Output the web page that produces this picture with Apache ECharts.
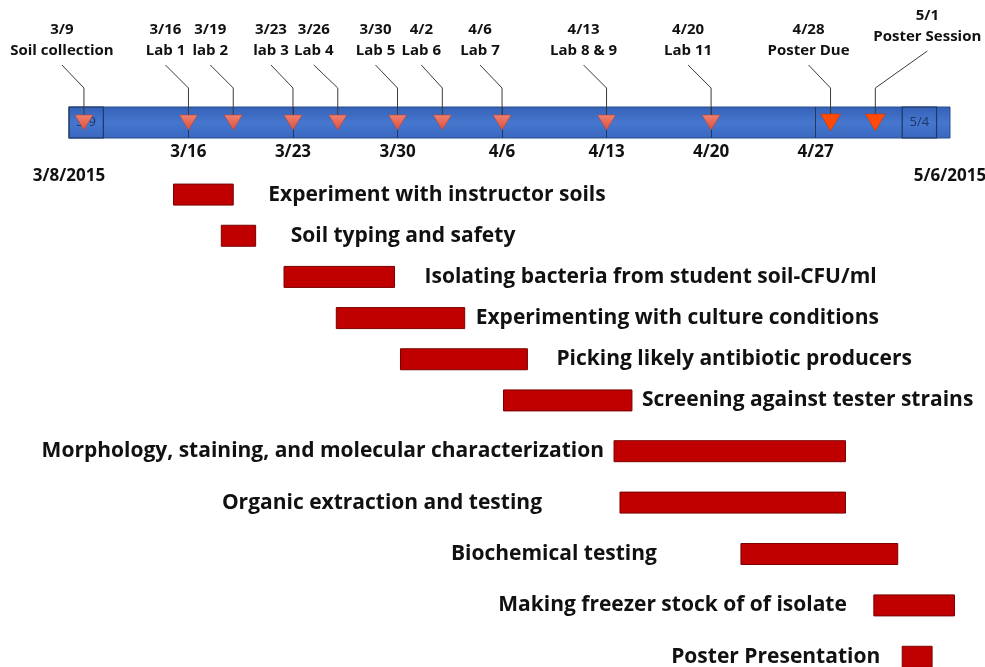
<!DOCTYPE html>
<html>
<head>
<meta charset="utf-8">
<title>Soil project timeline</title>
<script src="https://cdn.jsdelivr.net/npm/echarts@6/dist/echarts.min.js"></script>
<style>
  html, body { margin: 0; padding: 0; background: #fff; }
  #main { width: 985px; height: 667px; }
</style>
</head>
<body>
<div id="main"></div>
<script>
// every day value below counts days after 3/8/2015 (start of the timeline)
var spanStartLabel = '3/8/2015';
var spanEndLabel = '5/6/2015';
var spanDays = 59;

var weekTickDay = [8, 15, 22, 29, 36, 43, 50];
var weekTickLabel = ['3/16', '3/23', '3/30', '4/6', '4/13', '4/20', '4/27'];

var milestoneDay = [1, 8, 11, 15, 18, 22, 25, 29, 36, 43, 51, 54];
var milestoneDate = ['3/9', '3/16', '3/19', '3/23', '3/26', '3/30', '4/2', '4/6', '4/13', '4/20', '4/28', '5/1'];
var milestoneName = ['Soil collection', 'Lab 1', 'lab 2', 'lab 3', 'Lab 4', 'Lab 5', 'Lab 6', 'Lab 7', 'Lab 8 & 9', 'Lab 11', 'Poster Due', 'Poster Session'];

var endBoxLabel = ['3/9', '5/4'];
var endBoxFrom = [0, 55.8];
var endBoxTo = [2.3, 58.1];

var taskNamesTop = [
  'Experiment with instructor soils',
  'Soil typing and safety',
  'Isolating bacteria from student soil-CFU/ml',
  'Experimenting with culture conditions',
  'Picking likely antibiotic producers',
  'Screening against tester strains'
];
var taskStartTop = [7.0, 10.2, 14.4, 17.9, 22.2, 29.1];
var taskEndTop = [11.0, 12.5, 21.8, 26.5, 30.7, 37.7];

var taskNamesBottom = [
  'Morphology, staining, and molecular characterization',
  'Organic extraction and testing',
  'Biochemical testing',
  'Making freezer stock of of isolate',
  'Poster Presentation'
];
var taskStartBottom = [36.5, 36.9, 45.0, 53.9, 55.8];
var taskEndBottom = [52.0, 52.0, 55.5, 59.3, 57.8];

// layout only (pixel gaps between bar and its text, callout offsets)
var labelGapTop = [35, 35, 30, 11, 29, 10];
var labelGapBottom = [10, 78, 84, 27, 22];
var calloutDx = [-22, -23, -23, -22, -24, -22, -21, -22, -23, -23, -22, 52];
var calloutRise = [0, 0, 0, 0, 0, 0, 0, 0, 0, 0, 0, 14];
var bigMarker = [false, false, false, false, false, false, false, false, false, false, true, true];

var FONT = '"Open Sans", sans-serif';
var chart = echarts.init(document.getElementById('main'));

function taskData(starts, ends) {
  var d = [];
  for (var i = 0; i < starts.length; i++) {
    d.push([i, starts[i], ends[i]]);
  }
  return d;
}

function renderTask(names, gaps, leftText) {
  return function (params, api) {
    var s = api.coord([api.value(1), api.value(0)]);
    var e = api.coord([api.value(2), api.value(0)]);
    var i = params.dataIndex;
    var h = 21;
    return {
      type: 'group',
      children: [
        {
          type: 'rect',
          shape: { x: s[0], y: s[1] - h / 2, width: e[0] - s[0], height: h },
          style: { fill: '#C00000', stroke: '#7A0000', lineWidth: 1 }
        },
        {
          type: 'text',
          style: {
            text: names[i],
            x: leftText ? s[0] - gaps[i] : e[0] + gaps[i],
            y: s[1],
            align: leftText ? 'right' : 'left',
            verticalAlign: 'middle',
            fill: '#111',
            font: 'bold 21px ' + FONT
          }
        }
      ]
    };
  };
}

var milestoneData = [];
for (var m = 0; m < milestoneDay.length; m++) {
  milestoneData.push([milestoneDay[m], 1]);
}

var boxData = [];
for (var b = 0; b < endBoxFrom.length; b++) {
  boxData.push([endBoxFrom[b], endBoxTo[b]]);
}

var option = {
  backgroundColor: '#fff',
  animation: false,
  grid: [
    { left: 69, width: 881, top: 107, height: 31, outerBoundsMode: 'none', containLabel: false },
    { left: 69, width: 881, top: 174, height: 247, outerBoundsMode: 'none' },
    { left: 69, width: 881, top: 425.5, height: 257, outerBoundsMode: 'none' }
  ],
  xAxis: [
    {
      gridIndex: 0, type: 'value', min: 0, max: spanDays, z: 3,
      splitLine: { show: false },
      axisLine: { show: false },
      axisTick: {
        show: true, inside: true, length: 31,
        customValues: weekTickDay,
        lineStyle: { color: '#1F3864', width: 1 }
      },
      axisLabel: {
        show: true,
        customValues: [0].concat(weekTickDay).concat([spanDays]),
        margin: 2,
        lineHeight: 24,
        color: '#111',
        fontFamily: FONT,
        fontWeight: 'bold',
        fontSize: 17,
        formatter: function (v) {
          if (v === 0) return '\n' + spanStartLabel;
          if (v === spanDays) return '\n' + spanEndLabel;
          return weekTickLabel[weekTickDay.indexOf(v)];
        }
      }
    },
    { gridIndex: 1, type: 'value', min: 0, max: spanDays, show: false },
    { gridIndex: 2, type: 'value', min: 0, max: spanDays, show: false }
  ],
  yAxis: [
    { gridIndex: 0, type: 'value', min: 0, max: 1, show: false },
    { gridIndex: 1, type: 'category', data: taskNamesTop, inverse: true, show: false },
    { gridIndex: 2, type: 'category', data: taskNamesBottom, inverse: true, show: false }
  ],
  series: [
    {
      // the blue timeline band
      type: 'custom', xAxisIndex: 0, yAxisIndex: 0, z: 1,
      data: [[0, spanDays]],
      renderItem: function (params, api) {
        var a = api.coord([api.value(0), 1]);
        var c = api.coord([api.value(1), 0]);
        return {
          type: 'rect',
          shape: { x: a[0], y: a[1], width: c[0] - a[0], height: c[1] - a[1] },
          style: {
            fill: new echarts.graphic.LinearGradient(0, 0, 0, 1, [
              { offset: 0, color: '#3461B6' },
              { offset: 0.5, color: '#4676CE' },
              { offset: 1, color: '#3A68C0' }
            ]),
            stroke: '#2B4C8C',
            lineWidth: 1
          }
        };
      }
    },
    {
      // start / end date boxes on the band
      type: 'custom', xAxisIndex: 0, yAxisIndex: 0, z: 2,
      data: boxData,
      renderItem: function (params, api) {
        var a = api.coord([api.value(0), 1]);
        var c = api.coord([api.value(1), 0]);
        return {
          type: 'group',
          children: [
            {
              type: 'rect',
              shape: { x: a[0], y: a[1], width: c[0] - a[0], height: c[1] - a[1] },
              style: { fill: 'rgba(0,0,0,0)', stroke: '#1F3864', lineWidth: 1.2 }
            },
            {
              type: 'text',
              style: {
                text: endBoxLabel[params.dataIndex],
                x: (a[0] + c[0]) / 2, y: (a[1] + c[1]) / 2,
                align: 'center', verticalAlign: 'middle',
                fill: '#1F3864', font: '13px ' + FONT
              }
            }
          ]
        };
      }
    },
    {
      // milestones with callouts
      type: 'custom', xAxisIndex: 0, yAxisIndex: 0, z: 4,
      data: milestoneData,
      renderItem: function (params, api) {
        var i = params.dataIndex;
        var p = api.coord([api.value(0), 1]);
        var x = p[0], top = p[1];
        var lx = x + calloutDx[i];
        var rise = calloutRise[i];
        var big = bigMarker[i];
        var hw = big ? 10 : 9;
        var th = big ? 17 : 15;
        var ty = top + (big ? 7 : 8);
        return {
          type: 'group',
          children: [
            {
              type: 'polyline',
              shape: { points: [[lx, top - 42 - rise], [x, top - 19], [x, ty]] },
              style: { stroke: '#3A3A3A', lineWidth: 1, fill: null }
            },
            {
              type: 'polygon',
              shape: { points: [[x - hw, ty], [x + hw, ty], [x, ty + th]] },
              style: big
                ? { fill: '#FF4A0A', stroke: '#C03000', lineWidth: 0.5 }
                : {
                    fill: new echarts.graphic.LinearGradient(0, 0, 0, 1, [
                      { offset: 0, color: '#F2806E' },
                      { offset: 1, color: '#D8503E' }
                    ]),
                    stroke: '#B5473A', lineWidth: 0.6
                  }
            },
            {
              type: 'text',
              style: {
                text: milestoneDate[i], x: lx, y: top - 77 - rise,
                align: 'center', verticalAlign: 'middle',
                fill: '#111', font: 'bold 15px ' + FONT
              }
            },
            {
              type: 'text',
              style: {
                text: milestoneName[i], x: lx, y: top - 56 - rise,
                align: 'center', verticalAlign: 'middle',
                fill: '#111', font: 'bold 15px ' + FONT
              }
            }
          ]
        };
      }
    },
    {
      type: 'custom', xAxisIndex: 1, yAxisIndex: 1,
      encode: { x: [1, 2], y: 0 },
      data: taskData(taskStartTop, taskEndTop),
      renderItem: renderTask(taskNamesTop, labelGapTop, false)
    },
    {
      type: 'custom', xAxisIndex: 2, yAxisIndex: 2,
      encode: { x: [1, 2], y: 0 },
      data: taskData(taskStartBottom, taskEndBottom),
      renderItem: renderTask(taskNamesBottom, labelGapBottom, true)
    }
  ]
};

chart.setOption(option);
</script>
</body>
</html>
